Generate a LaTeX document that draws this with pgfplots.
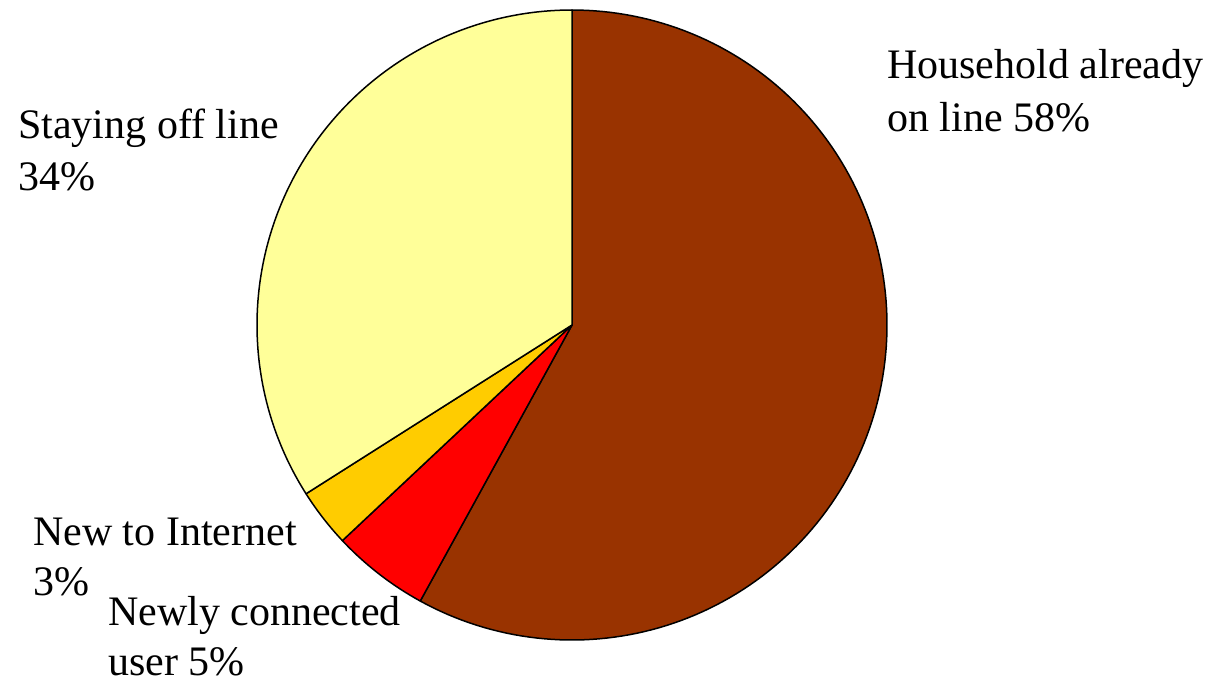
\documentclass[border=0pt]{standalone}
\usepackage{pgfplots}
\pgfplotsset{compat=1.18}
\usepackage{fontspec}
\setmainfont{Liberation Serif}
\definecolor{cHouse}{HTML}{993300}
\definecolor{cNewly}{HTML}{FF0000}
\definecolor{cNewInt}{HTML}{FFCC00}
\definecolor{cOff}{HTML}{FFFF99}
% shares in percent, clockwise from 12 o'clock
\def\vHouse{58}
\def\vNewly{5}
\def\vNewInt{3}
\def\vOff{34}
\begin{document}
\begin{tikzpicture}
\pgfmathsetmacro\aA{90}
\pgfmathsetmacro\aB{90-3.6*\vHouse}
\pgfmathsetmacro\aC{\aB-3.6*\vNewly}
\pgfmathsetmacro\aD{\aC-3.6*\vNewInt}
\pgfmathsetmacro\aE{\aD-3.6*\vOff}
\begin{axis}[
  anchor=south west, at={(0,0)},
  width=1217pt, height=681pt, scale only axis,
  xmin=0, xmax=1217, ymin=0, ymax=681,
  hide axis, clip=false,
  every axis plot/.append style={no marks, draw=black, line width=1.5pt, line join=round, samples=150},
]
\addplot[fill=cHouse, domain=\aB:\aA] ({572+315*cos(x)},{356+315*sin(x)}) -- (axis cs:572,356) -- cycle;
\addplot[fill=cNewly, domain=\aC:\aB] ({572+315*cos(x)},{356+315*sin(x)}) -- (axis cs:572,356) -- cycle;
\addplot[fill=cNewInt, domain=\aD:\aC] ({572+315*cos(x)},{356+315*sin(x)}) -- (axis cs:572,356) -- cycle;
\addplot[fill=cOff, domain=\aE:\aD] ({572+315*cos(x)},{356+315*sin(x)}) -- (axis cs:572,356) -- cycle;
\begin{scope}[every node/.style={anchor=base west, inner sep=0pt, font=\fontsize{42}{52}\selectfont}]
\node at (axis cs:887,602) {Household already};
\node at (axis cs:887,549) {on line 58\%};
\node at (axis cs:18,542) {Staying off line};
\node at (axis cs:18,490) {34\%};
\node at (axis cs:33,136) {New to Internet};
\node at (axis cs:33,86) {3\%};
\node at (axis cs:108,56) {Newly connected};
\node at (axis cs:108,6) {user 5\%};
\end{scope}
\end{axis}
\pgfresetboundingbox
\useasboundingbox (0,0) rectangle (1217pt,681pt);
\end{tikzpicture}
\end{document}
